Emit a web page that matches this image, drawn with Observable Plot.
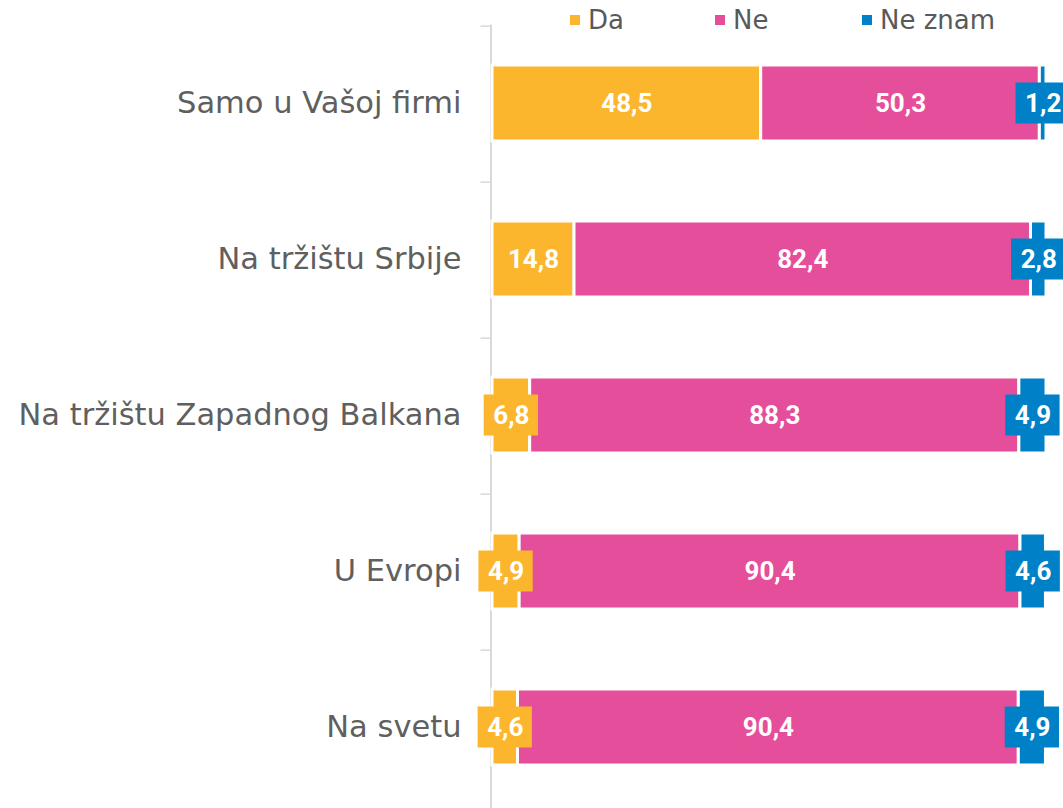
<!DOCTYPE html>
<html><head><meta charset="utf-8">
<script src="https://cdn.jsdelivr.net/npm/d3@7"></script>
<script src="https://cdn.jsdelivr.net/npm/@observablehq/plot@0.6"></script>
<style>
body{margin:0;background:#fff;}
#wrap{position:relative;width:1063px;height:808px;overflow:hidden;}
#legend{position:absolute;top:4px;left:0;width:1063px;height:32px;font-family:"DejaVu Sans";font-size:26px;color:#595959;z-index:2;line-height:32px}
.item{position:absolute;top:0;display:flex;align-items:center;white-space:nowrap}
.sw{width:10px;height:10px;margin-right:8px}
</style></head><body><div id="wrap"><div id="legend"></div></div>
<script>
const categories = ["Samo u Vašoj firmi","Na tržištu Srbije","Na tržištu Zapadnog Balkana","U Evropi","Na svetu"];
const series = ["Da","Ne","Ne znam"];
const colors = ["#FBB62E","#E54E9A","#0080C6"];
const da = [48.5,14.8,6.8,4.9,4.6];
const ne = [50.3,82.4,88.3,90.4,90.4];
const neZnam = [1.2,2.8,4.9,4.6,4.9];
const legendLeft = [570,715,862];

const rows = [];
categories.forEach((c,i)=>{
  let s=0;
  [da,ne,neZnam].forEach((arr,j)=>{
    const v=arr[i];
    rows.push({category:c, series:series[j], value:v, x1:s, x2:s+v, mid:s+v/2});
    s+=v;
  });
});
const fmt = v => v.toFixed(1).replace(".", ",");
const boxHalf = 4.9;

const chart = Plot.plot({
  width:1063, height:808, marginLeft:492, marginRight:17, marginTop:24.5, marginBottom:0,
  style:{fontFamily:"DejaVu Sans", color:"#595959", background:"white"},
  x:{domain:[0,100], axis:null},
  y:{domain:categories, paddingInner:0.515, paddingOuter:0.2575, label:null},
  color:{domain:series, range:colors},
  marks:[
    Plot.ruleX([0], {stroke:"#d9d9d9", strokeWidth:2, dx:-1.5}),
    Plot.axisY({tickSize:10, tickFormat:()=>"", stroke:"#d9d9d9", strokeWidth:1.5, dx:-1.5, dy:-78.35}),
    Plot.axisY({tickSize:0, tickPadding:31, fontSize:30.5, fill:"#5f5f5f", dy:-1}),
    Plot.barX(rows, {x1:"x1", x2:"x2", y:"category", fill:"series", stroke:"white", strokeWidth:3, dy:-1}),
    Plot.barX(rows, {x1:d=>d.mid-boxHalf, x2:d=>d.mid+boxHalf, y:"category", fill:"series", insetTop:17.5, insetBottom:17.5, dy:-1}),
    Plot.text(rows, {x:"mid", y:"category", text:d=>fmt(d.value), fill:"white", fontWeight:"bold", fontSize:26, fontFamily:"Roboto", dy:-1})
  ]
});
document.getElementById("wrap").appendChild(chart);
const lg = document.getElementById("legend");
series.forEach((s,i)=>{
  const it=document.createElement("div"); it.className="item"; it.style.left=legendLeft[i]+"px";
  const sw=document.createElement("span"); sw.className="sw"; sw.style.background=colors[i];
  const t=document.createElement("span"); t.textContent=s;
  it.appendChild(sw); it.appendChild(t); lg.appendChild(it);
});
</script></body></html>
